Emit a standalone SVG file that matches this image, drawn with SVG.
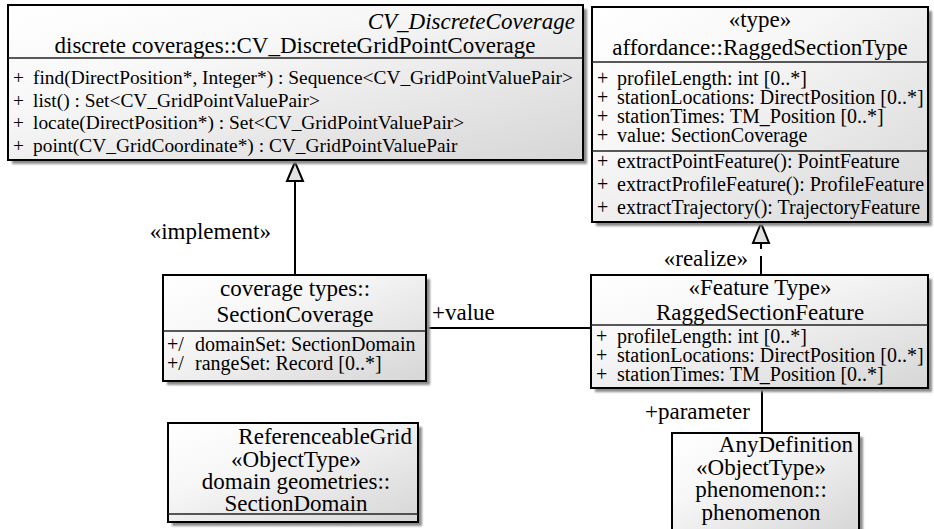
<svg xmlns="http://www.w3.org/2000/svg" width="934" height="529" viewBox="0 0 934 529">
  <defs>
    <linearGradient id="boxFill" x1="0" y1="0" x2="1" y2="1">
      <stop offset="0" stop-color="#ffffff"/>
      <stop offset="0.35" stop-color="#f7f7f7"/>
      <stop offset="1" stop-color="#d6d6d6"/>
    </linearGradient>
    <filter id="soft" x="-5%" y="-5%" width="110%" height="110%">
      <feGaussianBlur stdDeviation="1.2"/>
    </filter>
  </defs>
  <style>
    text { font-family: "Liberation Serif", "Times New Roman", serif; fill: #000; }
    .hd { font-size: 23px; }
    .it { font-size: 23px; font-style: italic; }
    .bd { font-size: 20px; }
    .op { font-size: 19.4px; }
    .c { text-anchor: middle; }
    .e { text-anchor: end; }
    .box { fill: url(#boxFill); stroke: #000; stroke-width: 2; }
    .shadow { fill: #8c8c8c; filter: url(#soft); }
    .div { stroke: #222; stroke-width: 1.3; }
    .line { stroke: #000; stroke-width: 2; fill: none; }
    .dash { stroke: #000; stroke-width: 2; fill: none; stroke-dasharray: 19 7; }
    .head { fill: #e2e2e2; stroke: #000; stroke-width: 2; stroke-linejoin: miter; }
  </style>

  <rect width="934" height="529" fill="#fff"/>

  <!-- connectors -->
  <g id="connectors">
    <line class="line" x1="295" y1="275" x2="295" y2="181"/>
    <polygon class="head" points="295,162 287,181 303,181"/>
    <line class="dash" x1="761" y1="275" x2="761" y2="243"/>
    <polygon class="head" points="761,223 753,243 769,243"/>
    <line class="line" x1="426" y1="328" x2="591" y2="328"/>
    <line class="line" x1="762" y1="388" x2="762" y2="433"/>
    <text class="hd e" x="271" y="239">«implement»</text>
    <text class="hd e" x="748" y="266">«realize»</text>
    <text class="hd" x="432" y="320">+value</text>
    <text class="hd" x="645" y="419">+parameter</text>
  </g>

  <!-- discrete coverages::CV_DiscreteGridPointCoverage -->
  <g id="CV_DiscreteGridPointCoverage">
    <rect class="shadow" x="12" y="9" width="575" height="155"/>
    <rect class="box" x="8" y="5" width="575" height="155"/>
    <line class="div" x1="8" y1="58" x2="583" y2="58"/>
    <text class="it e" x="575" y="29">CV_DiscreteCoverage</text>
    <text class="hd c" x="295" y="53">discrete coverages::CV_DiscreteGridPointCoverage</text>
    <text class="op" x="13" y="84">+</text>
    <text class="op" x="33" y="84">find(DirectPosition*, Integer*) : Sequence&lt;CV_GridPointValuePair&gt;</text>
    <text class="op" x="13" y="107">+</text>
    <text class="op" x="33" y="107">list() : Set&lt;CV_GridPointValuePair&gt;</text>
    <text class="op" x="13" y="129">+</text>
    <text class="op" x="33" y="129">locate(DirectPosition*) : Set&lt;CV_GridPointValuePair&gt;</text>
    <text class="op" x="13" y="152">+</text>
    <text class="op" x="33" y="152">point(CV_GridCoordinate*) : CV_GridPointValuePair</text>
  </g>

  <!-- affordance::RaggedSectionType -->
  <g id="RaggedSectionType">
    <rect class="shadow" x="596" y="11" width="336" height="215"/>
    <rect class="box" x="592" y="7" width="336" height="215"/>
    <line class="div" x1="592" y1="62" x2="928" y2="62"/>
    <line class="div" x1="592" y1="151" x2="928" y2="151"/>
    <text class="hd c" x="760" y="27">«type»</text>
    <text class="hd c" x="760" y="55">affordance::RaggedSectionType</text>
    <text class="bd" x="597" y="85">+</text>
    <text class="bd" x="617" y="85">profileLength: int [0..*]</text>
    <text class="bd" x="597" y="104">+</text>
    <text class="bd" x="617" y="104">stationLocations: DirectPosition [0..*]</text>
    <text class="bd" x="597" y="123">+</text>
    <text class="bd" x="617" y="123">stationTimes: TM_Position [0..*]</text>
    <text class="bd" x="597" y="142">+</text>
    <text class="bd" x="617" y="142">value: SectionCoverage</text>
    <text class="bd" x="597" y="168">+</text>
    <text class="bd" x="617" y="168">extractPointFeature(): PointFeature</text>
    <text class="bd" x="597" y="191">+</text>
    <text class="bd" x="617" y="191">extractProfileFeature(): ProfileFeature</text>
    <text class="bd" x="597" y="214">+</text>
    <text class="bd" x="617" y="214">extractTrajectory(): TrajectoryFeature</text>
  </g>

  <!-- coverage types::SectionCoverage -->
  <g id="SectionCoverage">
    <rect class="shadow" x="167" y="279" width="263" height="106"/>
    <rect class="box" x="163" y="275" width="263" height="106"/>
    <line class="div" x1="163" y1="331" x2="426" y2="331"/>
    <text class="hd c" x="295" y="296">coverage types::</text>
    <text class="hd c" x="295" y="322">SectionCoverage</text>
    <text class="bd" x="167" y="351">+/</text>
    <text class="bd" x="195" y="351">domainSet: SectionDomain</text>
    <text class="bd" x="167" y="370">+/</text>
    <text class="bd" x="195" y="370">rangeSet: Record [0..*]</text>
  </g>

  <!-- RaggedSectionFeature -->
  <g id="RaggedSectionFeature">
    <rect class="shadow" x="595" y="279" width="337" height="113"/>
    <rect class="box" x="591" y="275" width="337" height="113"/>
    <line class="div" x1="591" y1="325" x2="928" y2="325"/>
    <text class="hd c" x="760" y="295">«Feature Type»</text>
    <text class="hd c" x="760" y="320">RaggedSectionFeature</text>
    <text class="bd" x="596" y="343">+</text>
    <text class="bd" x="617" y="343">profileLength: int [0..*]</text>
    <text class="bd" x="596" y="362">+</text>
    <text class="bd" x="617" y="362">stationLocations: DirectPosition [0..*]</text>
    <text class="bd" x="596" y="381">+</text>
    <text class="bd" x="617" y="381">stationTimes: TM_Position [0..*]</text>
  </g>

  <!-- domain geometries::SectionDomain -->
  <g id="SectionDomain">
    <rect class="shadow" x="172" y="427" width="250" height="99"/>
    <rect class="box" x="168" y="423" width="250" height="99"/>
    <line class="div" x1="168" y1="514" x2="418" y2="514"/>
    <text class="hd e" x="412" y="444">ReferenceableGrid</text>
    <text class="hd c" x="296" y="467">«ObjectType»</text>
    <text class="hd c" x="296" y="489">domain geometries::</text>
    <text class="hd c" x="296" y="511">SectionDomain</text>
  </g>

  <!-- phenomenon::phenomenon -->
  <g id="phenomenon">
    <rect class="shadow" x="676" y="437" width="187" height="100"/>
    <rect class="box" x="672" y="433" width="187" height="100"/>
    <text class="hd e" x="853" y="452">AnyDefinition</text>
    <text class="hd c" x="761" y="475">«ObjectType»</text>
    <text class="hd c" x="761" y="497">phenomenon::</text>
    <text class="hd c" x="761" y="520">phenomenon</text>
  </g>
</svg>
